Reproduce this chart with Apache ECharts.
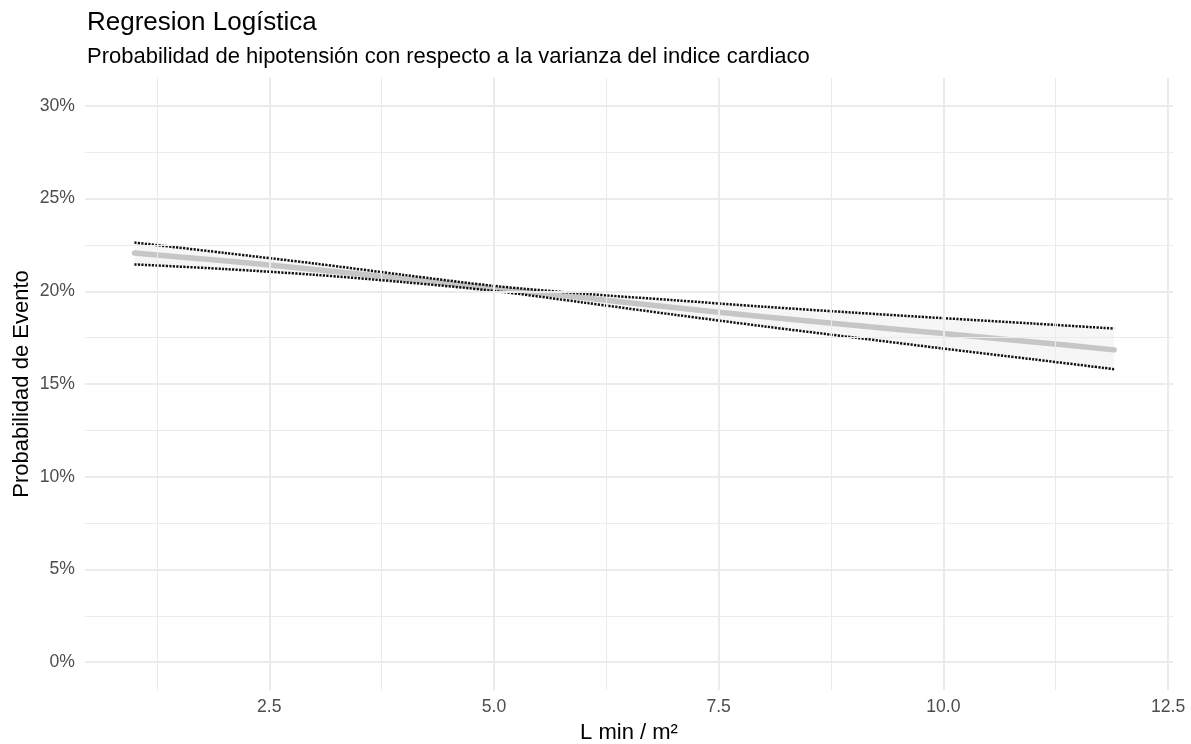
<!DOCTYPE html>
<html>
<head>
<meta charset="utf-8">
<script src="https://cdn.jsdelivr.net/npm/echarts@6/dist/echarts.min.js"></script>
<style>html,body{margin:0;padding:0;background:#fff}#c{width:1191px;height:744px}</style>
</head>
<body>
<div id="c"></div>
<script>
// Data (probability in %)
const xVals   = [1.0, 2.0, 3.0, 4.0, 5.0, 6.0, 7.0, 8.0, 9.0, 10.0, 11.0, 11.9];
const fitted  = [22.06, 21.64, 21.18, 20.68, 20.15, 19.65, 19.12, 18.63, 18.17, 17.72, 17.27, 16.84];
const upperCI = [22.63, 22.07, 21.50, 20.88, 20.29, 19.87, 19.52, 19.17, 18.85, 18.55, 18.26, 17.99];
const lowerCI = [21.45, 21.20, 20.89, 20.49, 20.02, 19.39, 18.74, 18.11, 17.51, 16.91, 16.33, 15.80];
const xMajor = [2.5, 5.0, 7.5, 10.0, 12.5];
const xMinor = [1.25, 3.75, 6.25, 8.75, 11.25];
const yMajor = [0, 5, 10, 15, 20, 25, 30];
const yMinor = [2.5, 7.5, 12.5, 17.5, 22.5, 27.5];

const FONT = 'Liberation Sans, Arial, sans-serif';
const pair = (xs, ys) => xs.map((x, i) => [x, ys[i]]);

const gridLines = [];
xMinor.forEach(v => gridLines.push({xAxis: v, lineStyle: {width: 1}}));
yMinor.forEach(v => gridLines.push({yAxis: v, lineStyle: {width: 1}}));
xMajor.forEach(v => gridLines.push({xAxis: v, lineStyle: {width: 2}}));
yMajor.forEach(v => gridLines.push({yAxis: v, lineStyle: {width: 2}}));

// ribbon data: [x, lower, upper]
const bandData = xVals.map((x, i) => [x, lowerCI[i], upperCI[i]]);

const chart = echarts.init(document.getElementById('c'), null, {renderer: 'canvas'});
chart.setOption({
  animation: false,
  backgroundColor: '#ffffff',
  textStyle: {fontFamily: FONT},
  title: [
    {text: 'Regresion Logística', left: 87, top: 10, padding: 0,
     textStyle: {fontFamily: FONT, fontSize: 26, fontWeight: 'normal', color: '#000'}},
    {text: 'Probabilidad de hipotensión con respecto a la varianza del indice cardiaco', left: 87, top: 46, padding: 0,
     textStyle: {fontFamily: FONT, fontSize: 22, fontWeight: 'normal', color: '#000'}}
  ],
  grid: {left: 85, right: 18, top: 78, bottom: 54, containLabel: false, outerBoundsMode: 'none'},
  xAxis: {
    type: 'value', min: 0.45, max: 12.555,
    name: 'L min / m²', nameLocation: 'middle', nameGap: 32, nameMoveOverlap: false,
    nameTextStyle: {fontFamily: FONT, fontSize: 22, color: '#000'},
    axisLine: {show: false},
    axisTick: {show: false, customValues: xMajor},
    splitLine: {show: false},
    axisLabel: {customValues: xMajor, margin: 8, fontFamily: FONT, fontSize: 17.6, color: '#4d4d4d',
      formatter: v => Number(v).toFixed(1)}
  },
  yAxis: {
    type: 'value', min: -1.5, max: 31.5,
    name: 'Probabilidad de Evento', nameLocation: 'middle', nameRotate: 90, nameGap: 52, nameMoveOverlap: false,
    nameTextStyle: {fontFamily: FONT, fontSize: 22, color: '#000'},
    axisLine: {show: false},
    axisTick: {show: false, customValues: yMajor},
    splitLine: {show: false},
    axisLabel: {customValues: yMajor, margin: 10, fontFamily: FONT, fontSize: 17.6, color: '#4d4d4d',
      formatter: v => Math.round(v) + '%'}
  },
  series: [
    {
      type: 'line', data: [], silent: true, z: 0,
      markLine: {
        silent: true, symbol: 'none', label: {show: false},
        lineStyle: {color: '#ebebeb', type: 'solid'},
        emphasis: {disabled: true},
        data: gridLines, animation: false
      }
    },
    {
      name: 'band', type: 'custom', data: bandData, silent: true, z: 1,
      renderItem: function (params, api) {
        if (params.dataIndex !== 0) return null;
        const pts = [];
        bandData.forEach(d => pts.push(api.coord([d[0], d[2]])));
        for (let i = bandData.length - 1; i >= 0; i--) pts.push(api.coord([bandData[i][0], bandData[i][1]]));
        return {type: 'polygon', shape: {points: pts}, style: {fill: '#f6f6f6'}};
      },
      encode: {x: 0, y: [1, 2]}
    },
    {
      name: 'fit', type: 'line', data: pair(xVals, fitted), smooth: 0.3,
      showSymbol: false, silent: true, z: 3,
      lineStyle: {color: '#c6c6c6', width: 5.5, cap: 'round'}
    },
    {
      name: 'upper', type: 'line', data: pair(xVals, upperCI), smooth: 0.3,
      showSymbol: false, silent: true, z: 4,
      lineStyle: {color: '#111', width: 2.5, type: [2.2, 1.3]}
    },
    {
      name: 'lower', type: 'line', data: pair(xVals, lowerCI), smooth: 0.3,
      showSymbol: false, silent: true, z: 4,
      lineStyle: {color: '#111', width: 2.5, type: [2.2, 1.3]}
    }
  ]
});
</script>
</body>
</html>
